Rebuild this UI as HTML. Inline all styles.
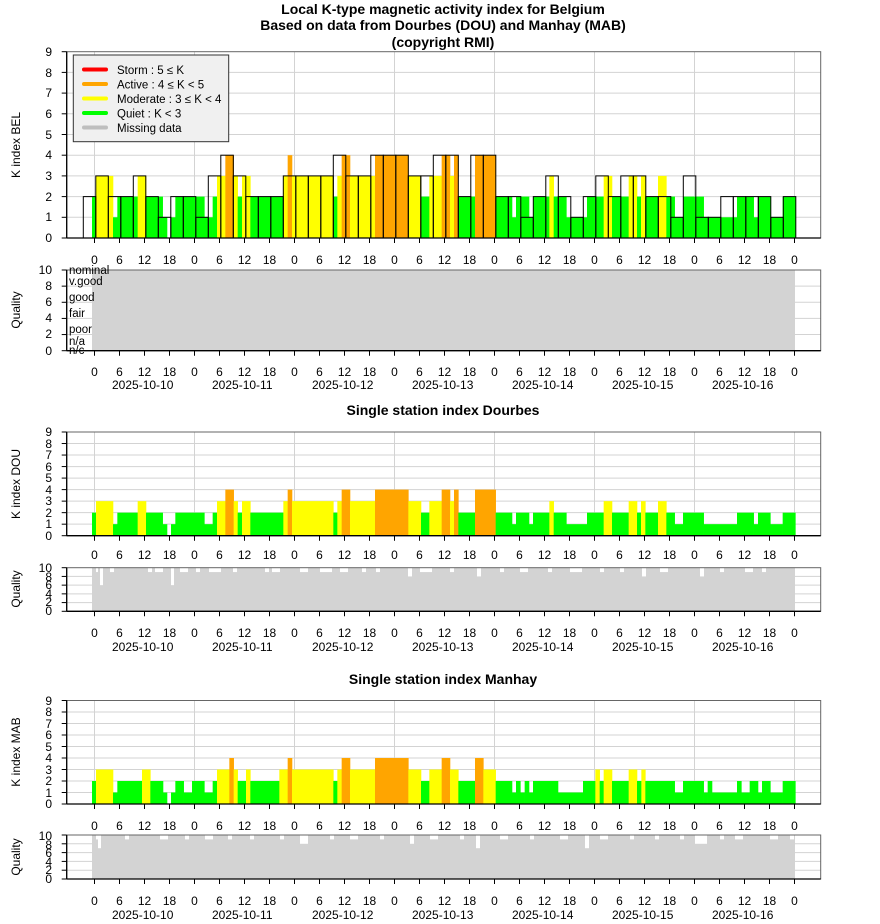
<!DOCTYPE html>
<html><head><meta charset="utf-8"><style>
html,body{margin:0;padding:0;background:#fff;}
svg{display:block;font-family:"Liberation Sans",sans-serif;}
.t{font-weight:bold;font-size:14px;text-anchor:middle;}
.s{font-size:12px;}
.e{text-anchor:end;font-size:12px;}
.m{text-anchor:middle;font-size:12px;}
</style></head><body>
<svg id="c" width="880" height="924" viewBox="0 0 880 924" xmlns="http://www.w3.org/2000/svg">
<rect width="880" height="924" fill="#fff"/>
<text class="t" x="443" y="14">Local K-type magnetic activity index for Belgium</text>
<text class="t" x="443" y="30">Based on data from Dourbes (DOU) and Manhay (MAB)</text>
<text class="t" x="443" y="47">(copyright RMI)</text>
<text class="t" x="443" y="415">Single station index Dourbes</text>
<text class="t" x="443" y="684">Single station index Manhay</text>
<g id="grid"></g>
<g id="bars"></g>
<g id="axes" stroke="#000" fill="none"></g>
<g id="labels"></g>
<text class="s" transform="translate(20,145) rotate(-90)" text-anchor="middle">K index BEL</text>
<text class="s" transform="translate(20,310) rotate(-90)" text-anchor="middle">Quality</text>
<text class="s" transform="translate(20,484) rotate(-90)" text-anchor="middle">K index DOU</text>
<text class="s" transform="translate(20,589) rotate(-90)" text-anchor="middle">Quality</text>
<text class="s" transform="translate(20,752) rotate(-90)" text-anchor="middle">K index MAB</text>
<text class="s" transform="translate(20,857) rotate(-90)" text-anchor="middle">Quality</text>
<g font-size="11.5">
<text x="69" y="274">nominal</text>
<text x="69" y="285">v.good</text>
<text x="69" y="301">good</text>
<text x="69" y="317">fair</text>
<text x="69" y="333">poor</text>
<text x="69" y="345">n/a</text>
<text x="69" y="354">n/c</text>
</g>
<g id="legend">
<rect x="73.3" y="55" width="155.4" height="86.7" fill="#f0f0f0" stroke="#333" stroke-width="1"/>
<g stroke-width="4" stroke-linecap="round">
<line x1="84" y1="69.5" x2="106" y2="69.5" stroke="#ff0000"/>
<line x1="84" y1="84" x2="106" y2="84" stroke="#ffa500"/>
<line x1="84" y1="98.5" x2="106" y2="98.5" stroke="#ffff00"/>
<line x1="84" y1="113" x2="106" y2="113" stroke="#00ff00"/>
<line x1="84" y1="127.5" x2="106" y2="127.5" stroke="#bebebe"/>
</g>
<g font-size="11.5">
<text x="117" y="74">Storm : 5 ≤ K</text>
<text x="117" y="88.5">Active : 4 ≤ K &lt; 5</text>
<text x="117" y="103">Moderate : 3 ≤ K &lt; 4</text>
<text x="117" y="117.5">Quiet : K &lt; 3</text>
<text x="117" y="132">Missing data</text>
</g>
</g>
<g id="static">
<text class="e" x="52" y="56">9</text><text class="e" x="52" y="77">8</text><text class="e" x="52" y="97">7</text><text class="e" x="52" y="118">6</text><text class="e" x="52" y="139">5</text><text class="e" x="52" y="159">4</text><text class="e" x="52" y="180">3</text><text class="e" x="52" y="201">2</text><text class="e" x="52" y="221">1</text><text class="e" x="52" y="242">0</text>
<text class="e" x="52" y="274">10</text><text class="e" x="52" y="290">8</text><text class="e" x="52" y="306">6</text><text class="e" x="52" y="322">4</text><text class="e" x="52" y="338">2</text><text class="e" x="52" y="355">0</text>
<text class="e" x="52" y="436">9</text><text class="e" x="52" y="448">8</text><text class="e" x="52" y="459">7</text><text class="e" x="52" y="471">6</text><text class="e" x="52" y="482">5</text><text class="e" x="52" y="494">4</text><text class="e" x="52" y="505">3</text><text class="e" x="52" y="517">2</text><text class="e" x="52" y="528">1</text><text class="e" x="52" y="540">0</text>
<text class="e" x="52" y="572">10</text><text class="e" x="52" y="581">8</text><text class="e" x="52" y="589">6</text><text class="e" x="52" y="598">4</text><text class="e" x="52" y="606">2</text><text class="e" x="52" y="615">0</text>
<text class="e" x="52" y="705">9</text><text class="e" x="52" y="716">8</text><text class="e" x="52" y="728">7</text><text class="e" x="52" y="739">6</text><text class="e" x="52" y="751">5</text><text class="e" x="52" y="762">4</text><text class="e" x="52" y="774">3</text><text class="e" x="52" y="785">2</text><text class="e" x="52" y="797">1</text><text class="e" x="52" y="808">0</text>
<text class="e" x="52" y="840">10</text><text class="e" x="52" y="849">8</text><text class="e" x="52" y="857">6</text><text class="e" x="52" y="866">4</text><text class="e" x="52" y="874">2</text><text class="e" x="52" y="883">0</text>
</g>
<g id="ticklabels">
<g class="m">
<text x="94.5" y="264">0</text><text x="119.5" y="264">6</text><text x="144.5" y="264">12</text><text x="169.5" y="264">18</text><text x="194.5" y="264">0</text><text x="219.5" y="264">6</text><text x="244.5" y="264">12</text><text x="269.5" y="264">18</text><text x="294.5" y="264">0</text><text x="319.5" y="264">6</text><text x="344.5" y="264">12</text><text x="369.5" y="264">18</text><text x="394.5" y="264">0</text><text x="419.5" y="264">6</text><text x="444.5" y="264">12</text><text x="469.5" y="264">18</text><text x="494.5" y="264">0</text><text x="519.5" y="264">6</text><text x="544.5" y="264">12</text><text x="569.5" y="264">18</text><text x="594.5" y="264">0</text><text x="619.5" y="264">6</text><text x="644.5" y="264">12</text><text x="669.5" y="264">18</text><text x="694.5" y="264">0</text><text x="719.5" y="264">6</text><text x="744.5" y="264">12</text><text x="769.5" y="264">18</text><text x="794.5" y="264">0</text>
</g>
</g>
</svg>
<script>
(function(){
var NS="http://www.w3.org/2000/svg";
function el(p,t,a){var e=document.createElementNS(NS,t);for(var k in a)e.setAttribute(k,a[k]);p.appendChild(e);return e;}
var grid=document.getElementById('grid'),bars=document.getElementById('bars'),axes=document.getElementById('axes');
var X0=66.7,X1=820.7;
function col(k){return k>=5?'#ff0000':k>=4?'#ffa500':k>=3?'#ffff00':'#00ff00';}
var kp=[[51.7,238,9],[432,535.7,9],[700.5,804,9]];
var qp=[[270,350.7],[567.7,611.3],[835,879]];
function panelGrid(top,bot,n){
  for(var i=1;i<n;i++){var y=bot-(bot-top)*i/n;el(grid,'line',{x1:X0,x2:X1,y1:y,y2:y,stroke:'#d3d3d3','stroke-width':1});}
  for(var d=0;d<8;d++){var x=94.5+100*d;el(grid,'line',{x1:x,x2:x,y1:top,y2:bot,stroke:'#d3d3d3','stroke-width':1});}
}
kp.forEach(function(p){panelGrid(p[0],p[1],9);});
qp.forEach(function(p){panelGrid(p[0],p[1],5);});
var dA=[[96,108,2],[108,159,3],[159,172,1],[172,233,2],[233,258,3],[258,308,2],[308,321,1],[321,333,0],[333,346,1],[346,433,2],[433,458,1],[458,471,2],[471,496,3],[496,521,4],[521,533,3],[533,546,2],[546,571,3],[571,670,2],[670,683,3],[683,696,4],[696,820,3],[820,832,2],[832,845,3],[845,870,4],[870,945,3],[945,1045,4],[1045,1083,3],[1083,1108,2],[1108,1110,3]];
var dB=[[0,35,3],[35,60,4],[60,72,3],[72,85,4],[85,135,2],[135,197,4],[197,246,2],[246,258,1],[258,297,2],[297,309,1],[309,358,2],[358,371,3],[371,409,2],[409,471,1],[471,521,2],[521,546,3],[546,596,2],[596,621,3],[621,633,2],[633,646,3],[646,684,2],[684,709,3],[709,734,2],[734,759,1],[759,821,2],[821,921,1],[921,971,2],[971,984,1],[984,1021,2],[1021,1058,1],[1058,1096,2]];
var mA=[[96,108,2],[108,159,3],[159,172,1],[172,246,2],[246,271,3],[271,309,2],[309,321,1],[321,333,0],[333,346,1],[346,371,2],[371,396,1],[396,433,2],[433,458,1],[458,471,2],[471,508,3],[508,521,4],[521,533,3],[533,558,2],[558,571,3],[571,658,2],[658,683,3],[683,696,4],[696,820,3],[820,832,2],[832,845,3],[845,870,4],[870,945,3],[945,1045,4],[1045,1083,3],[1083,1108,2],[1108,1110,3]];
var mB=[[0,35,3],[35,60,4],[60,85,3],[85,135,2],[135,160,4],[160,197,3],[197,246,2],[246,258,1],[258,271,2],[271,284,1],[284,297,2],[297,309,1],[309,384,2],[384,459,1],[459,496,2],[496,509,3],[509,521,2],[521,546,3],[546,596,2],[596,621,3],[621,634,2],[634,646,3],[646,734,2],[734,759,1],[759,821,2],[821,833,1],[833,846,2],[846,921,1],[921,934,2],[934,959,1],[959,984,2],[984,996,1],[996,1021,2],[1021,1058,1],[1058,1096,2]];
function segs(A,B){var r=[];A.forEach(function(s){r.push([s[0]/3+60,s[1]/3+60,s[2]]);});B.forEach(function(s){r.push([s[0]/3+430,s[1]/3+430,s[2]]);});return r;}
var D=segs(dA,dB),M=segs(mA,mB);
function drawSegs(S,p){var u=(p[1]-p[0])/p[2];S.forEach(function(s){if(s[2]<=0)return;el(bars,'rect',{x:s[0],y:p[1]-s[2]*u,width:s[1]-s[0]+0.3,height:s[2]*u,fill:col(s[2])});});}
drawSegs(D,kp[0]);drawSegs(D,kp[1]);drawSegs(M,kp[2]);
var K=[2,3,2,2,3,2,1,2,2,1,3,4,3,2,2,2,3,3,3,3,4,3,3,4,4,4,3,3,4,4,2,4,4,2,2,1,2,3,2,1,2,3,2,3,3,2,2,1,3,1,1,2,2,2,2,1,2];
var u0=(238-51.7)/9;
K.forEach(function(k,i){var x=83.3+i*12.5;el(bars,'rect',{x:x,y:238-k*u0,width:12.5,height:k*u0,fill:'none',stroke:'#000','stroke-width':1});});
qp.forEach(function(p){el(bars,'rect',{x:92,y:p[0],width:703,height:p[1]-p[0],fill:'#d3d3d3'});});
// quality notches
var nD=[[96,2,1],[100,3,4],[110,4,1],[148,4,1],[155,8,1],[171,3,4],[180,8,1],[196,4,1],[209,12,1],[233,4,1],[265,4,1],[272,8,1],[300,8,1],[320,12,1],[340,8,1],[362,4,1],[376,4,1],[408,4,2],[420,12,1],[450,4,1],[477,4,2],[500,4,1],[520,8,1],[548,4,1],[570,12,1],[600,4,1],[620,4,1],[642,4,2],[660,8,1],[700,4,2],[720,4,1],[745,8,1],[762,4,1]];
var nM=[[96,2,1],[98,3,3],[125,4,1],[160,8,1],[185,4,1],[205,8,1],[228,4,1],[250,4,1],[280,4,1],[300,8,2],[330,4,1],[350,8,1],[380,4,1],[410,4,2],[430,8,1],[460,4,1],[476,4,3],[500,8,1],[530,4,1],[560,8,1],[585,4,3],[600,8,1],[630,4,1],[655,4,1],[680,4,1],[695,12,2],[720,4,1],[735,8,1],[770,8,1],[790,4,1]];
function notches(N,p){var u=(p[1]-p[0])/10;N.forEach(function(n){el(bars,'rect',{x:n[0],y:p[0],width:n[1],height:n[2]*u,fill:'#fff'});});}
notches(nD,qp[1]);notches(nM,qp[2]);
kp.concat(qp).forEach(function(p){
  el(axes,'rect',{x:X0,y:p[0],width:X1-X0,height:p[1]-p[0],stroke:'#666','stroke-width':1});
  el(axes,'line',{x1:X0,x2:X0,y1:p[0],y2:p[1],'stroke-width':1.3});
  var n=p[2]||5;
  for(var i=0;i<=n;i++){var y=p[1]-(p[1]-p[0])*i/n;el(axes,'line',{x1:X0-5,x2:X0,y1:y,y2:y});}
  el(axes,'line',{x1:X0,x2:X1,y1:p[1],y2:p[1],'stroke-width':1.3});
  for(var t=0;t<=28;t++){var x=94.5+25*t;el(axes,'line',{x1:x,x2:x,y1:p[1],y2:p[1]+5});}
});
var src=document.querySelector('#ticklabels g');
[559,376,637,830,905].forEach(function(y){
  var g=src.cloneNode(true);g.setAttribute('transform','translate(0,'+(y-264)+')');document.getElementById('ticklabels').appendChild(g);});
})();
</script>
<div style="position:absolute;left:0;top:0;width:880px;height:924px;pointer-events:none;font-family:'Liberation Sans',sans-serif;font-size:12px;">
<div style="position:absolute;top:378px;left:0;width:880px;height:14px;">
<span style="position:absolute;left:112px">2025-10-10</span><span style="position:absolute;left:212px">2025-10-11</span><span style="position:absolute;left:312px">2025-10-12</span><span style="position:absolute;left:412px">2025-10-13</span><span style="position:absolute;left:512px">2025-10-14</span><span style="position:absolute;left:612px">2025-10-15</span><span style="position:absolute;left:712px">2025-10-16</span></div>
<div style="position:absolute;top:640px;left:0;width:880px;height:14px;">
<span style="position:absolute;left:112px">2025-10-10</span><span style="position:absolute;left:212px">2025-10-11</span><span style="position:absolute;left:312px">2025-10-12</span><span style="position:absolute;left:412px">2025-10-13</span><span style="position:absolute;left:512px">2025-10-14</span><span style="position:absolute;left:612px">2025-10-15</span><span style="position:absolute;left:712px">2025-10-16</span></div>
<div style="position:absolute;top:908px;left:0;width:880px;height:14px;">
<span style="position:absolute;left:112px">2025-10-10</span><span style="position:absolute;left:212px">2025-10-11</span><span style="position:absolute;left:312px">2025-10-12</span><span style="position:absolute;left:412px">2025-10-13</span><span style="position:absolute;left:512px">2025-10-14</span><span style="position:absolute;left:612px">2025-10-15</span><span style="position:absolute;left:712px">2025-10-16</span></div>
</div>
</body></html>
